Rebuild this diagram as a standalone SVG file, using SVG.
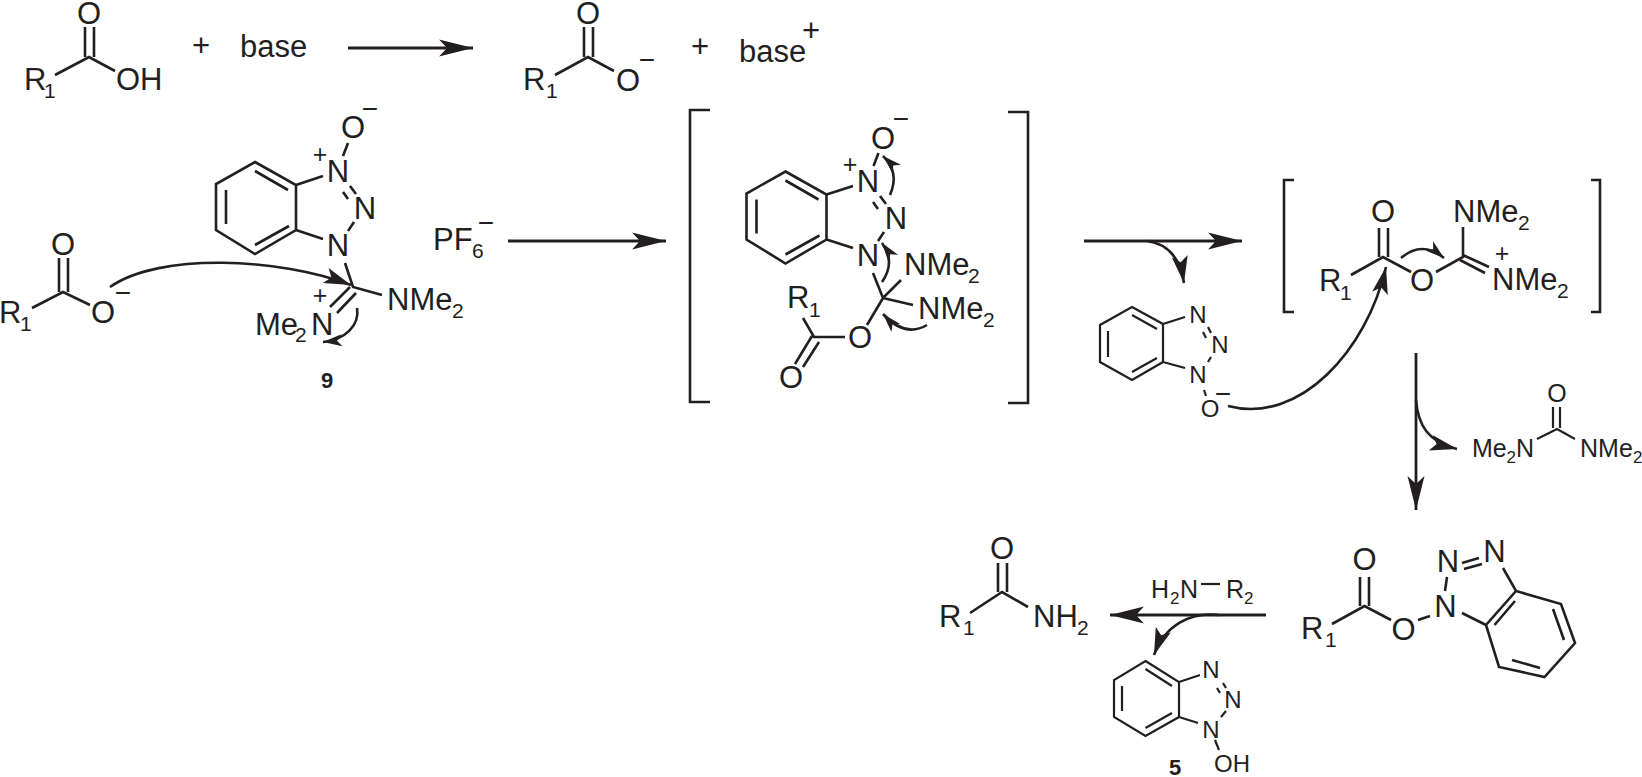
<svg xmlns="http://www.w3.org/2000/svg" xmlns:xlink="http://www.w3.org/1999/xlink" width="1642" height="777" viewBox="0 0 1642 777">
<style>
text{font-family:"Liberation Sans",Arial,sans-serif;fill:#231f20}
.t{font-size:31px}.m{font-size:25px}.s{font-size:24px}.sub{font-size:21px}.subs{font-size:17px}.p{font-size:25px}.n{font-size:28px}
.c{text-anchor:middle}.b{font-weight:bold;font-size:22px}
.l{fill:none;stroke:#231f20;stroke-width:2.6;stroke-linecap:butt;stroke-linejoin:miter}
.th{stroke-width:2.2}.a{stroke-width:2.8}
</style>
<defs>
<marker id="big" markerUnits="userSpaceOnUse" markerWidth="40" markerHeight="22" refX="36" refY="11" orient="auto"><path d="M2,2.500L36,11L2,19.500L10,11Z" fill="#231f20"/></marker>
<marker id="cur" markerUnits="userSpaceOnUse" markerWidth="32" markerHeight="20" refX="28" refY="10" orient="auto"><path d="M1,2L28,10L1,18L7,10Z" fill="#231f20"/></marker>
<marker id="sm" markerUnits="userSpaceOnUse" markerWidth="24" markerHeight="16" refX="20" refY="8" orient="auto"><path d="M1,2L20,8L1,14L6,8Z" fill="#231f20"/></marker>
<g id="bz"><path class="l" d="M255,162L296,185V230L255,254L216,230V184ZM255,171L288,190M289,226L255,245M226,190V224"/></g>
</defs>

<g id="acid">
<path class="l" d="M85,27V57M94,27V57M55,75L89,57L115,71"/>
<text class="t c" x="89" y="23.500">O</text><text class="t" x="24" y="90">R</text><text class="sub" x="44" y="98">1</text><text class="t" x="116" y="90">OH</text>
</g>
<g id="plus1"><text class="t c" x="201" y="56">+</text></g>
<g id="base1"><text class="t" x="240" y="57">base</text></g>
<g id="carboxylate1">
<path class="l" d="M584,27V57M593,27V57M555,75L588,57L614,71"/>
<text class="t c" x="588" y="23.500">O</text><text class="t" x="523" y="90">R</text><text class="sub" x="546" y="98">1</text><text class="t" x="616" y="91">O</text><text class="n c" x="647" y="69">−</text>
</g>
<g id="plus2"><text class="t c" x="700" y="57">+</text></g>
<g id="base2"><text class="t" x="739" y="62">base</text><text class="t c" x="811" y="41">+</text></g>

<g id="carboxylate2">
<path class="l" d="M59,258V292M68,258V292M32,308L63,292L90,305"/>
<text class="t c" x="63" y="255">O</text><text class="t" x="-1" y="323">R</text><text class="sub" x="20" y="331">1</text><text class="t c" x="103" y="323">O</text><text class="n c" x="123" y="302">−</text>
</g>
<g id="reagent9">
<use xlink:href="#bz"/>
<path class="l" d="M296,185L323,176M296,230L323,239M348,143L343,156M343,192L348,199M350,186L356,194M354,222L348,231M345,263L353,287L382,295M350,287L330,307M356,293L337,313"/>
<text class="t c" x="338" y="182">N</text><text class="t c" x="365" y="219">N</text><text class="t c" x="338" y="256">N</text><text class="t c" x="353" y="138">O</text>
<text class="n c" x="370" y="118">−</text><text class="p c" x="320" y="163">+</text><text class="p c" x="320" y="304">+</text>
<text class="t" x="387" y="310">NMe</text><text class="sub" x="452" y="318">2</text>
<text class="t" x="255" y="335">Me</text><text class="sub" x="295" y="342">2</text><text class="t" x="311" y="335">N</text>
<text class="t" x="433" y="250">PF</text><text class="sub" x="472" y="258">6</text><text class="n c" x="486" y="232">−</text>
<text class="b c" x="327" y="388">9</text>
</g>

<g id="intermediate1">
<path class="l" d="M710,110H690V402H710M1008,112H1028V403H1008"/>
<use xlink:href="#bz" x="530.500" y="9.500"/>
<path class="l" d="M826.500,194.500L853,186M826.500,239.500L853,248M878.500,153L873.500,166M873,202L878,209M880,196L886,204M884,232L878,241M873,273L883,298L901,280M883,298L913,305M883,298L867,325M845,337H814L803,318M812,336L795,364M819,342L803,367"/>
<text class="t c" x="868" y="192">N</text><text class="t c" x="896" y="229">N</text><text class="t c" x="868" y="266">N</text><text class="t c" x="883" y="149">O</text>
<text class="n c" x="901" y="128">−</text><text class="p c" x="850" y="173">+</text>
<text class="t" x="904" y="275">NMe</text><text class="sub" x="968" y="283">2</text>
<text class="t" x="918" y="319">NMe</text><text class="sub" x="983" y="327">2</text>
<text class="t c" x="860" y="348">O</text><text class="t" x="787" y="308">R</text><text class="sub" x="809" y="317">1</text><text class="t c" x="791" y="388">O</text>
</g>

<g id="oat-anion">
<path class="l th" d="M1132,307L1163,324V362L1132,380L1100,362V325ZM1132,315L1157,329M1157,358L1132,372M1108,331V357M1163,324L1185,317M1163,362L1185,368M1203,332L1206,338M1208,327L1211,333M1211,357L1208,362M1204,390L1206,396"/>
<text class="s c" x="1198" y="323">N</text><text class="s c" x="1220" y="353">N</text><text class="s c" x="1198" y="383">N</text><text class="s c" x="1210" y="417">O</text><text class="n c" x="1223" y="403">−</text>
</g>

<g id="intermediate2">
<path class="l" d="M1294,180H1284V312H1294M1591,180H1600V312H1591"/>
<path class="l" d="M1379,228V257M1388,228V257M1351,275L1383,257L1411,272M1436,272L1463,257V227M1463,255L1489,267M1460,260L1485,273"/>
<text class="t c" x="1383" y="222">O</text><text class="t" x="1319" y="291">R</text><text class="sub" x="1340" y="300">1</text><text class="t c" x="1422" y="291">O</text>
<text class="t" x="1453" y="222">NMe</text><text class="sub" x="1518" y="230">2</text>
<text class="p c" x="1502" y="262">+</text>
<text class="t" x="1492" y="290">NMe</text><text class="sub" x="1557" y="298">2</text>
</g>

<g id="urea">
<path class="l th" d="M1553,407V428M1560,407V428M1537,439L1557,429L1575,439"/>
<text class="m c" x="1557" y="402">O</text>
<text class="m" x="1472" y="457">Me</text><text class="subs" x="1506.500" y="463">2</text><text class="m" x="1516" y="457">N</text>
<text class="m" x="1580" y="457">NMe</text><text class="subs" x="1633" y="463">2</text>
</g>

<g id="oat-ester">
<path class="l" d="M1360,577V606M1369,577V606M1332,624L1364.500,606L1391,620M1418,620L1430,616M1447,577L1445,591M1462,563L1479,558M1464,569L1482,564M1503,568L1516,591L1561,604L1575,643L1544.500,677L1499,667L1486,625L1516,591M1462,613L1486,625M1515,601L1494.500,625M1553,609L1564,640M1512,660L1540,668"/>
<text class="t c" x="1364.500" y="570">O</text><text class="t" x="1301" y="639">R</text><text class="sub" x="1325" y="647">1</text><text class="t c" x="1403.500" y="640">O</text>
<text class="t c" x="1445.500" y="617">N</text><text class="t c" x="1448" y="572">N</text><text class="t c" x="1494.500" y="562">N</text>
</g>

<g id="amide">
<path class="l" d="M998,563V592M1007,563V592M970,613L1002,592L1028,607"/>
<text class="t c" x="1002" y="559">O</text><text class="t" x="939" y="627">R</text><text class="sub" x="963" y="635">1</text><text class="t" x="1033" y="627">NH</text><text class="sub" x="1077" y="635">2</text>
</g>
<g id="amine">
<path class="l th" d="M1201,584H1220"/>
<text class="m" x="1151" y="598">H</text><text class="subs" x="1170" y="604">2</text><text class="m" x="1180" y="598">N</text><text class="m" x="1226" y="598">R</text><text class="subs" x="1244" y="604">2</text>
</g>
<g id="hobt5">
<path class="l th" d="M1145.500,661L1179,682V717L1145.500,736L1114,717V680ZM1145.500,669L1172,686M1172,713L1145.500,728M1122,686V711M1179,682L1200,675M1179,717L1198,723M1217,688L1220,693M1223,683L1226,688M1226,711L1221,717M1215,740L1219,750"/>
<text class="s c" x="1211" y="678">N</text><text class="s c" x="1233" y="708">N</text><text class="s c" x="1211" y="738">N</text><text class="s" x="1214" y="772">OH</text>
<text class="b c" x="1175" y="775">5</text>
</g>

<g id="connectors">
<path class="l a" d="M348,48H473" marker-end="url(#big)"/>
<path class="l a" d="M508,241H666" marker-end="url(#big)"/>
<path class="l a" d="M1084,241H1242" marker-end="url(#big)"/>
<path class="l a" d="M1416,353V510" marker-end="url(#big)"/>
<path class="l a" d="M1266,615H1110" marker-end="url(#big)"/>
<path class="l" d="M110,287C160,252 280,258 351,285" marker-end="url(#cur)"/>
<path class="l" d="M357,308C360,325 345,340 323,342" marker-end="url(#sm)"/>
<path class="l" d="M890,195Q900,172 883,156" marker-end="url(#sm)"/>
<path class="l" d="M882,282Q896,262 882,243" marker-end="url(#sm)"/>
<path class="l" d="M927,325Q905,338 883,314" marker-end="url(#sm)"/>
<path class="l" d="M1147,241Q1178,245 1184,283" marker-end="url(#cur)"/>
<path class="l" d="M1401,258Q1422,240 1444,258" marker-end="url(#sm)"/>
<path class="l" d="M1228,406C1300,425 1367,350 1386,267" marker-end="url(#cur)"/>
<path class="l" d="M1416,400C1418,425 1428,442 1457,449" marker-end="url(#cur)"/>
<path class="l" d="M1219,615C1190,612 1165,625 1154,655" marker-end="url(#cur)"/>
</g>
</svg>
